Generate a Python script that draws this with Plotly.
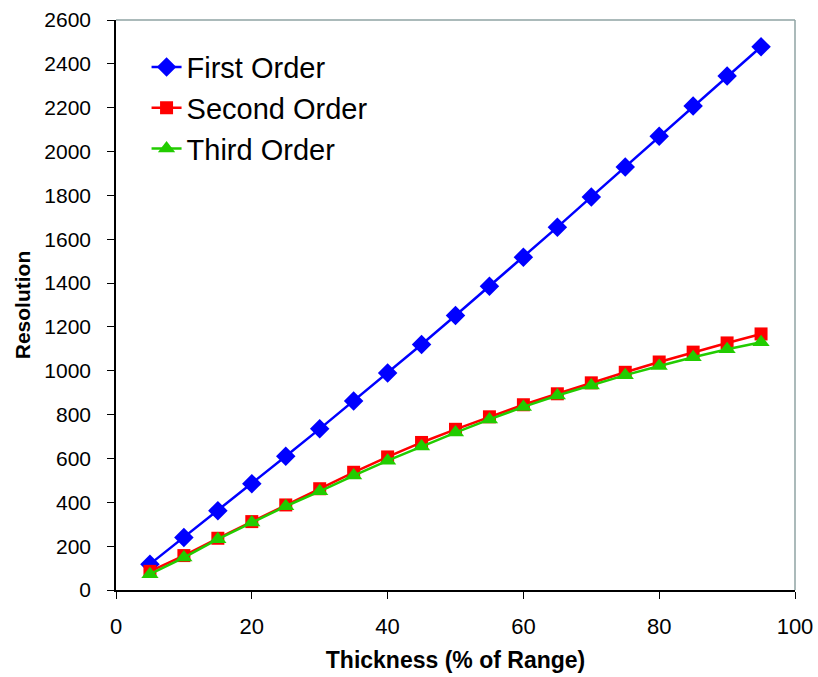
import plotly.graph_objects as go

thickness = [5, 10, 15, 20, 25, 30, 35, 40, 45, 50, 55, 60, 65, 70, 75, 80, 85, 90, 95]
first_order = [118, 240, 362, 485, 610, 735, 862, 990, 1120, 1252, 1385, 1518, 1655, 1793, 1930, 2070, 2208, 2345, 2478]
second_order = [85, 157, 236, 312, 388, 462, 537, 607, 673, 733, 790, 845, 895, 945, 993, 1040, 1085, 1127, 1168]
third_order = [72, 148, 232, 308, 382, 450, 522, 590, 655, 718, 778, 835, 887, 933, 980, 1022, 1062, 1098, 1130]

series = [
    ("First Order", first_order, "#0000FF", "diamond", 15),
    ("Second Order", second_order, "#FF0000", "square", 13),
    ("Third Order", third_order, "#22CC00", "triangle-up", 15),
]

fig = go.Figure()
for name, vals, color, symbol, size in series:
    fig.add_trace(go.Scatter(
        x=thickness, y=vals, name=name, mode="lines+markers",
        line=dict(color=color, width=2.5),
        marker=dict(color=color, symbol=symbol, size=size, line=dict(width=0)),
    ))

# grey frame along the top and right edges of the plot area
frame = "#8FA3A3"
fig.add_shape(type="line", xref="paper", yref="paper", x0=0, x1=1, y0=1, y1=1,
              line=dict(color=frame, width=1.5))
fig.add_shape(type="line", xref="paper", yref="paper", x0=1, x1=1, y0=0, y1=1,
              line=dict(color=frame, width=1.5))

fig.update_layout(
    width=818, height=677,
    margin=dict(l=116, r=23, t=20, b=87, autoexpand=False),
    paper_bgcolor="white", plot_bgcolor="white",
    font=dict(family="Liberation Sans, Arial, sans-serif", color="black"),
    showlegend=True,
    legend=dict(
        x=0.045, y=0.962, xanchor="left", yanchor="top",
        font=dict(size=29),
        bgcolor="rgba(0,0,0,0)", itemwidth=30, tracegroupgap=0,
    ),
    xaxis=dict(
        range=[0, 100], tickvals=[0, 20, 40, 60, 80, 100],
        showgrid=False, zeroline=False, automargin=False,
        showline=True, linecolor="black", linewidth=1.5,
        ticks="outside", ticklen=7, tickcolor="black", tickwidth=1.2,
        tickfont=dict(size=22), ticklabelstandoff=9,
        title=dict(text="<b>Thickness (% of Range)</b>", standoff=14,
                   font=dict(size=23)),
    ),
    yaxis=dict(
        range=[0, 2600], dtick=200,
        showgrid=False, zeroline=False, automargin=False,
        showline=True, linecolor="black", linewidth=1.5,
        ticks="outside", ticklen=7, tickcolor="black", tickwidth=1.2,
        tickfont=dict(size=21), ticklabelstandoff=12,
        title=dict(text="<b>Resolution</b>", standoff=8, font=dict(size=21)),
    ),
)

fig.write_html("out.html")
